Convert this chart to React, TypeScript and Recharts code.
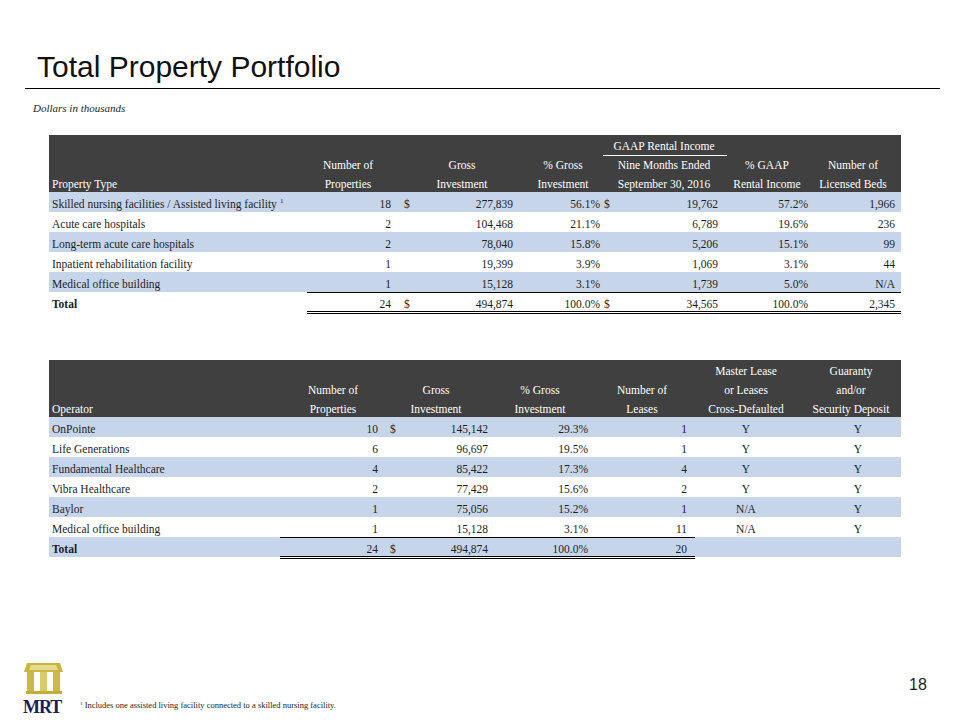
import React from 'react'
import { Bar, BarChart, XAxis, YAxis } from 'recharts'

// ---- table 1: property types ----
const propertyTypes = [
  'Skilled nursing facilities / Assisted living facility',
  'Acute care hospitals',
  'Long-term acute care hospitals',
  'Inpatient rehabilitation facility',
  'Medical office building',
]
const propertyCounts = [18, 2, 2, 1, 1]
const propertyGross = [277839, 104468, 78040, 19399, 15128]
const propertyGrossPct = [56.1, 21.1, 15.8, 3.9, 3.1]
const propertyGaap = [19762, 6789, 5206, 1069, 1739]
const propertyGaapPct = [57.2, 19.6, 15.1, 3.1, 5.0]
const propertyBeds: (number | null)[] = [1966, 236, 99, 44, null]
const propertyTotal = [24, 494874, 100.0, 34565, 100.0, 2345]

// ---- table 2: operators ----
const operators = [
  'OnPointe',
  'Life Generations',
  'Fundamental Healthcare',
  'Vibra Healthcare',
  'Baylor',
  'Medical office building',
]
const operatorCounts = [10, 6, 4, 2, 1, 1]
const operatorGross = [145142, 96697, 85422, 77429, 75056, 15128]
const operatorGrossPct = [29.3, 19.5, 17.3, 15.6, 15.2, 3.1]
const operatorLeases = [1, 1, 4, 2, 1, 11]
const operatorCrossDefaulted = ['Y', 'Y', 'Y', 'Y', 'N/A', 'N/A']
const operatorGuaranty = ['Y', 'Y', 'Y', 'Y', 'Y', 'Y']
const operatorTotal = [24, 494874, 100.0, 20]

const SERIF = '"Liberation Serif", "Times New Roman", serif'
const SANS = '"Liberation Sans", Arial, sans-serif'
const BLUE = '#c6d5ea'
const DARK = '#404040'
const INK = '#1e1e1e'
const FS = 11.5

const TABLE_LEFT = 49
const TABLE_WIDTH = 852
const ROW_H = 20

type Anchor = 'start' | 'middle' | 'end'
type Col = { x: number; anchor: Anchor }

const num = (v: number | null) => (v == null ? 'N/A' : v.toLocaleString('en-US'))
const pct = (v: number) => `${v.toFixed(1)}%`

// column layout (page x)
const propertyCols: Col[] = [
  { x: 52, anchor: 'start' },
  { x: 391, anchor: 'end' },
  { x: 404, anchor: 'start' },
  { x: 513, anchor: 'end' },
  { x: 600, anchor: 'end' },
  { x: 604, anchor: 'start' },
  { x: 718, anchor: 'end' },
  { x: 808, anchor: 'end' },
  { x: 895, anchor: 'end' },
]
const operatorCols: Col[] = [
  { x: 52, anchor: 'start' },
  { x: 378, anchor: 'end' },
  { x: 390, anchor: 'start' },
  { x: 488, anchor: 'end' },
  { x: 588, anchor: 'end' },
  { x: 687, anchor: 'end' },
  { x: 746, anchor: 'middle' },
  { x: 858, anchor: 'middle' },
]

type Row = { key: string; span: number; cells: string[]; total?: boolean; note?: boolean }

const propertyRows: Row[] = [
  ...propertyTypes.map((name, i) => ({
    key: name,
    span: 1,
    note: i === 0,
    cells: [
      name,
      num(propertyCounts[i]),
      i === 0 ? '$' : '',
      num(propertyGross[i]),
      pct(propertyGrossPct[i]),
      i === 0 ? '$' : '',
      num(propertyGaap[i]),
      pct(propertyGaapPct[i]),
      num(propertyBeds[i]),
    ],
  })),
  {
    key: 'Total',
    span: 1,
    total: true,
    cells: [
      'Total',
      num(propertyTotal[0]),
      '$',
      num(propertyTotal[1]),
      pct(propertyTotal[2]),
      '$',
      num(propertyTotal[3]),
      pct(propertyTotal[4]),
      num(propertyTotal[5]),
    ],
  },
]

const operatorRows: Row[] = [
  ...operators.map((name, i) => ({
    key: name,
    span: 1,
    cells: [
      name,
      num(operatorCounts[i]),
      i === 0 ? '$' : '',
      num(operatorGross[i]),
      pct(operatorGrossPct[i]),
      num(operatorLeases[i]),
      operatorCrossDefaulted[i],
      operatorGuaranty[i],
    ],
  })),
  {
    key: 'Total',
    span: 1,
    total: true,
    cells: [
      'Total',
      num(operatorTotal[0]),
      '$',
      num(operatorTotal[1]),
      pct(operatorTotal[2]),
      num(operatorTotal[3]),
      '',
      '',
    ],
  },
]

function makeRowShape(cols: Col[], lineFrom: number, lineTo: number) {
  return (props: any) => {
    const { x, y, width, height, payload, index } = props
    const row: Row = payload
    const base = y + height - 4
    const x1 = lineFrom - TABLE_LEFT
    const x2 = lineTo - TABLE_LEFT
    return (
      <g>
        <rect x={x} y={y} width={width} height={height} fill={index % 2 === 0 ? BLUE : '#ffffff'} />
        {row.cells.map((c, ci) =>
          c ? (
            <text
              key={ci}
              x={cols[ci].x - TABLE_LEFT}
              y={base}
              textAnchor={cols[ci].anchor}
              fontFamily={SERIF}
              fontSize={FS}
              fontWeight={row.total && ci === 0 ? 700 : 400}
              fill={INK}
            >
              {c}
              {row.note && ci === 0 ? (
                <tspan dx={3} dy={-5} fontSize={7}>
                  1
                </tspan>
              ) : null}
            </text>
          ) : null
        )}
        {row.total ? (
          <g stroke="#000" strokeWidth={1}>
            <line x1={x1} x2={x2} y1={y + 0.5} y2={y + 0.5} />
            <line x1={x1} x2={x2} y1={y + height - 0.5} y2={y + height - 0.5} />
            <line x1={x1} x2={x2} y1={y + height + 1.5} y2={y + height + 1.5} />
          </g>
        ) : null}
      </g>
    )
  }
}

function TableBody({ rows, cols, top, lineFrom, lineTo }: { rows: Row[]; cols: Col[]; top: number; lineFrom: number; lineTo: number }) {
  return (
    <div style={{ position: 'absolute', left: TABLE_LEFT, top }}>
      <BarChart
        width={TABLE_WIDTH}
        height={rows.length * ROW_H + 3}
        data={rows}
        layout="vertical"
        margin={{ top: 0, right: 0, bottom: 3, left: 0 }}
        barCategoryGap={0}
      >
        <XAxis type="number" domain={[0, 1]} hide />
        <YAxis type="category" dataKey="key" hide />
        <Bar dataKey="span" isAnimationActive={false} shape={makeRowShape(cols, lineFrom, lineTo)} />
      </BarChart>
    </div>
  )
}

type HeaderLabel = { x: number; anchor: Anchor; lines: [string, string, string] }

const propertyHeader: HeaderLabel[] = [
  { x: 52, anchor: 'start', lines: ['', '', 'Property Type'] },
  { x: 348, anchor: 'middle', lines: ['', 'Number of', 'Properties'] },
  { x: 462, anchor: 'middle', lines: ['', 'Gross', 'Investment'] },
  { x: 563, anchor: 'middle', lines: ['', '% Gross', 'Investment'] },
  { x: 664, anchor: 'middle', lines: ['GAAP Rental Income', 'Nine Months Ended', 'September 30, 2016'] },
  { x: 767, anchor: 'middle', lines: ['', '% GAAP', 'Rental Income'] },
  { x: 853, anchor: 'middle', lines: ['', 'Number of', 'Licensed Beds'] },
]
const operatorHeader: HeaderLabel[] = [
  { x: 52, anchor: 'start', lines: ['', '', 'Operator'] },
  { x: 333, anchor: 'middle', lines: ['', 'Number of', 'Properties'] },
  { x: 436, anchor: 'middle', lines: ['', 'Gross', 'Investment'] },
  { x: 540, anchor: 'middle', lines: ['', '% Gross', 'Investment'] },
  { x: 642, anchor: 'middle', lines: ['', 'Number of', 'Leases'] },
  { x: 746, anchor: 'middle', lines: ['Master Lease', 'or Leases', 'Cross-Defaulted'] },
  { x: 851, anchor: 'middle', lines: ['Guaranty', 'and/or', 'Security Deposit'] },
]

function Header({ labels, top, height }: { labels: HeaderLabel[]; top: number; height: number }) {
  return (
    <g>
      <rect x={TABLE_LEFT} y={top} width={TABLE_WIDTH} height={height} fill={DARK} />
      {labels.map((l) =>
        l.lines.map((t, li) =>
          t ? (
            <text
              key={`${l.x}-${li}`}
              x={l.x}
              y={top + height - 4 - (2 - li) * 19}
              textAnchor={l.anchor}
              fontFamily={SERIF}
              fontSize={FS}
              fill="#ffffff"
            >
              {t}
            </text>
          ) : null
        )
      )}
    </g>
  )
}

export default function App() {
  return (
    <div style={{ position: 'absolute', left: 0, top: 0, width: 960, height: 720, background: '#fff' }}>
      <svg width={960} height={720} style={{ position: 'absolute', left: 0, top: 0 }}>
        <text x={37} y={77} fontFamily={SANS} fontSize={30} fill="#111">
          Total Property Portfolio
        </text>
        <line x1={25} x2={940} y1={88.5} y2={88.5} stroke="#000" strokeWidth={1} />
        <text x={33} y={112} fontFamily={SERIF} fontSize={11} fontStyle="italic" fill={INK}>
          Dollars in thousands
        </text>

        <Header labels={propertyHeader} top={135} height={57} />
        <line x1={603} x2={727} y1={155.5} y2={155.5} stroke="#fff" strokeWidth={1} />
        <Header labels={operatorHeader} top={360} height={57} />

        {/* logo */}
        <g>
          <polygon points="27,663 60,663 63,672 24,672" fill="#c9b642" />
          <polygon points="31,665 56,665 58,670 29,670" fill="#e6db8c" />
          <rect x={27} y={672} width={7} height={20} fill="#cbb947" />
          <rect x={40} y={672} width={7} height={20} fill="#d8cb6a" />
          <rect x={53} y={672} width={7} height={20} fill="#cbb947" />
          <rect x={26} y={691} width={36} height={3} fill="#bfae3c" />
        </g>
        <text x={23} y={713} fontFamily={SERIF} fontSize={18} fontWeight={700} fill="#1b1d5c" letterSpacing={-1}>
          MRT
        </text>

        <text x={80} y={708} fontFamily={SERIF} fontSize={8.5} fill={INK}>
          <tspan fontSize={5} dy={-3}>1</tspan>
          <tspan dy={3}> Includes one assisted living facility connected to a skilled nursing facility.</tspan>
        </text>
        <text x={909} y={690} fontFamily={SANS} fontSize={16} fill="#222">
          18
        </text>
      </svg>

      <TableBody rows={propertyRows} cols={propertyCols} top={192} lineFrom={307} lineTo={901} />
      <TableBody rows={operatorRows} cols={operatorCols} top={417} lineFrom={280} lineTo={695} />
    </div>
  )
}
